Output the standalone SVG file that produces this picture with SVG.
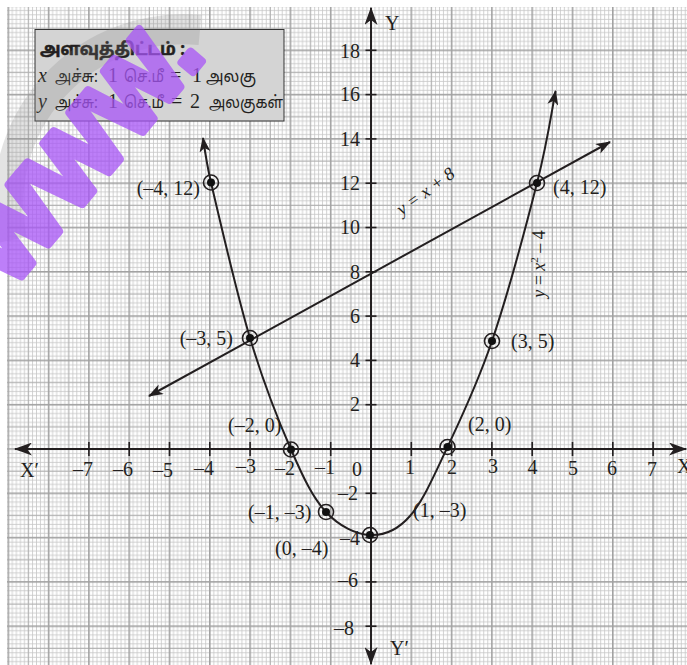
<svg xmlns="http://www.w3.org/2000/svg" width="687" height="665" viewBox="0 0 687 665">
<style>
.num{font-family:"Liberation Serif","Times New Roman",serif;font-size:20px;fill:#231f20}
.it{font-style:italic}
.ta{font-family:"Noto Sans Tamil","Lohit Tamil","Noto Sans",sans-serif;font-size:17px;fill:#231f20}
.ax{stroke:#231f20;stroke-width:2;fill:none}
.cv{stroke:#231f20;stroke-width:2;fill:none}
.tick{stroke:#231f20;stroke-width:1.6}
.ring{fill:none;stroke:#231f20;stroke-width:1.6}
.dot{fill:#111}
</style>
<defs>
<pattern id="grid" patternUnits="userSpaceOnUse" x="7.5" y="5.2" width="40.3" height="44.3">
<g fill="#c6c6c6">
<rect x="4.43" y="0" width="0.8" height="44.3"/><rect x="8.46" y="0" width="0.8" height="44.3"/><rect x="12.49" y="0" width="0.8" height="44.3"/><rect x="16.52" y="0" width="0.8" height="44.3"/>
<rect x="24.58" y="0" width="0.8" height="44.3"/><rect x="28.61" y="0" width="0.8" height="44.3"/><rect x="32.64" y="0" width="0.8" height="44.3"/><rect x="36.67" y="0" width="0.8" height="44.3"/>
<rect y="4.83" x="0" height="0.8" width="40.3"/><rect y="9.26" x="0" height="0.8" width="40.3"/><rect y="13.69" x="0" height="0.8" width="40.3"/><rect y="18.12" x="0" height="0.8" width="40.3"/>
<rect y="26.98" x="0" height="0.8" width="40.3"/><rect y="31.41" x="0" height="0.8" width="40.3"/><rect y="35.84" x="0" height="0.8" width="40.3"/><rect y="40.27" x="0" height="0.8" width="40.3"/>
</g>
<g fill="#b0b0b0">
<rect x="20.35" y="0" width="1.2" height="44.3"/><rect y="22.35" x="0" height="1.2" width="40.3"/>
</g>
<g fill="#a2a2a2">
<rect x="0" y="0" width="1.6" height="44.3"/><rect x="0" y="0" width="40.3" height="1.6"/>
</g>
</pattern>
<marker id="axarr" viewBox="0 0 18 13" refX="17" refY="6.5" markerWidth="18" markerHeight="13" markerUnits="userSpaceOnUse" orient="auto-start-reverse">
<path d="M0,0 L18,6.5 L0,13 L5,6.5 Z" fill="#231f20"/>
</marker>
<marker id="arr" viewBox="0 0 15 11" refX="14" refY="5.5" markerWidth="15" markerHeight="11" markerUnits="userSpaceOnUse" orient="auto-start-reverse">
<path d="M0,0 L15,5.5 L0,11 L4,5.5 Z" fill="#231f20"/>
</marker>
</defs>

<rect width="687" height="665" fill="#ffffff"/>
<rect x="7" y="7" width="680" height="658" fill="url(#grid)"/>

<g id="legend">
<rect x="35" y="29.5" width="249" height="91.5" fill="#d4d4d4" stroke="#333" stroke-width="1"/>
<text class="ta" x="40" y="55" font-weight="bold" stroke="#231f20" stroke-width="0.5" textLength="145" lengthAdjust="spacingAndGlyphs">அளவுத்திட்டம் :</text>
<text class="num it" x="38" y="81.5">x</text>
<text class="ta" x="55" y="81.5" textLength="43" lengthAdjust="spacingAndGlyphs">அச்சு:</text>
<text class="num" x="108" y="81.5">1</text>
<text class="ta" x="124" y="81.5" textLength="40" lengthAdjust="spacingAndGlyphs">செ.மீ</text>
<text class="num" x="170" y="81.5">=</text>
<text class="num" x="192" y="81.5">1</text>
<text class="ta" x="206" y="81.5" textLength="50" lengthAdjust="spacingAndGlyphs">அலகு</text>
<text class="num it" x="38" y="108">y</text>
<text class="ta" x="55" y="108" textLength="43" lengthAdjust="spacingAndGlyphs">அச்சு:</text>
<text class="num" x="108" y="108">1</text>
<text class="ta" x="124" y="108" textLength="40" lengthAdjust="spacingAndGlyphs">செ.மீ</text>
<text class="num" x="171" y="108">=</text>
<text class="num" x="190" y="108">2</text>
<text class="ta" x="209" y="108" textLength="74" lengthAdjust="spacingAndGlyphs">அலகுகள்</text>
</g>

<g id="axes">
<line class="ax" x1="15" y1="449" x2="686" y2="449" marker-start="url(#axarr)" marker-end="url(#axarr)"/>
<line class="ax" x1="371" y1="8" x2="371" y2="664" marker-start="url(#axarr)" marker-end="url(#axarr)"/>
<g class="tick">
<line x1="88.9" y1="442" x2="88.9" y2="456"/><line x1="129.2" y1="442" x2="129.2" y2="456"/><line x1="169.5" y1="442" x2="169.5" y2="456"/><line x1="209.8" y1="442" x2="209.8" y2="456"/><line x1="250.1" y1="442" x2="250.1" y2="456"/><line x1="290.4" y1="442" x2="290.4" y2="456"/><line x1="330.7" y1="442" x2="330.7" y2="456"/>
<line x1="411.3" y1="442" x2="411.3" y2="456"/><line x1="451.6" y1="442" x2="451.6" y2="456"/><line x1="491.9" y1="442" x2="491.9" y2="456"/><line x1="532.2" y1="442" x2="532.2" y2="456"/><line x1="572.5" y1="442" x2="572.5" y2="456"/><line x1="612.8" y1="442" x2="612.8" y2="456"/><line x1="653.1" y1="442" x2="653.1" y2="456"/>
<line x1="365.5" y1="50.3" x2="376.5" y2="50.3"/><line x1="365.5" y1="94.6" x2="376.5" y2="94.6"/><line x1="365.5" y1="138.9" x2="376.5" y2="138.9"/><line x1="365.5" y1="183.2" x2="376.5" y2="183.2"/><line x1="365.5" y1="227.5" x2="376.5" y2="227.5"/><line x1="365.5" y1="271.8" x2="376.5" y2="271.8"/><line x1="365.5" y1="316.1" x2="376.5" y2="316.1"/><line x1="365.5" y1="360.4" x2="376.5" y2="360.4"/><line x1="365.5" y1="404.7" x2="376.5" y2="404.7"/>
<line x1="365.5" y1="493.3" x2="376.5" y2="493.3"/><line x1="365.5" y1="537.6" x2="376.5" y2="537.6"/><line x1="365.5" y1="581.9" x2="376.5" y2="581.9"/><line x1="365.5" y1="626.2" x2="376.5" y2="626.2"/>
</g>
<g class="num" text-anchor="end">
<text x="93" y="476">–7</text><text x="133" y="476">–6</text><text x="173" y="477">–5</text><text x="214" y="475">–4</text><text x="256" y="473">–3</text><text x="295" y="475">–2</text><text x="335" y="474">–1</text>
</g>
<g class="num" text-anchor="middle">
<text x="410" y="474">1</text><text x="452" y="474">2</text><text x="493" y="473">3</text><text x="532.5" y="474">4</text><text x="573" y="475">5</text><text x="612" y="475">6</text><text x="652" y="476">7</text>
</g>
<text class="num" x="352" y="476">0</text>
<g class="num" text-anchor="end">
<text x="360" y="58">18</text><text x="360" y="101">16</text><text x="360" y="146">14</text><text x="360" y="190">12</text><text x="360" y="234">10</text><text x="360" y="279">8</text><text x="360" y="323">6</text><text x="360" y="367">4</text><text x="360" y="411">2</text>
<text x="358" y="500">–2</text><text x="360" y="545">–4</text><text x="358" y="587">–6</text><text x="354" y="635">–8</text>
</g>
<text class="num" x="20" y="477">X′</text>
<text class="num" x="677" y="473">X</text>
<text class="num" x="385" y="30">Y</text>
<text class="num" x="390" y="655">Y′</text>
</g>

<g id="connectors">
<path id="parabola" class="cv" marker-start="url(#arr)" marker-end="url(#arr)" d="M203,138 C205,152 207.5,167.5 211,182.5 C218.8,215.8 236.7,293.5 250,338 C263.3,382.5 278.3,420.5 291,449.5 C303.7,478.5 312.8,497.8 326,512 C339.2,526.3 356,534.3 370,535 C384,535.7 397.1,530.7 410,516 C422.9,501.3 433.8,476.2 447.5,447 C461.2,417.8 477.1,385 492,341 C506.9,297 526.4,224.7 537,183 C547.6,141.3 552.5,106.3 555.6,91"/>
<line id="line" class="cv" x1="149" y1="396" x2="610" y2="142" marker-start="url(#arr)" marker-end="url(#arr)"/>
<text class="num it" transform="translate(426,192) rotate(-36)" x="0" y="5" text-anchor="middle" style="font-size:18px">y = x + 8</text>
<text class="num" transform="translate(545,264) rotate(-90)" x="0" y="0" text-anchor="middle" style="font-size:18px"><tspan class="it">y</tspan> = <tspan class="it">x</tspan><tspan dy="-7" style="font-size:11px">2</tspan><tspan dy="7"> – 4</tspan></text>
</g>

<g id="p1"><circle class="ring" cx="211" cy="182.5" r="7.5"/><circle class="dot" cx="211" cy="182.5" r="4"/><text class="num" x="200" y="195" text-anchor="end">(–4, 12)</text></g>
<g id="p2"><circle class="ring" cx="250" cy="338" r="7.5"/><circle class="dot" cx="250" cy="338" r="4"/><text class="num" x="233" y="345" text-anchor="end">(–3, 5)</text></g>
<g id="p3"><circle class="ring" cx="291" cy="449.5" r="7.5"/><circle class="dot" cx="291" cy="449.5" r="4"/><text class="num" x="228" y="432">(–2, 0)</text></g>
<g id="p4"><circle class="ring" cx="326" cy="512" r="7.5"/><circle class="dot" cx="326" cy="512" r="4"/><text class="num" x="248" y="519">(–1, –3)</text></g>
<g id="p5"><circle class="ring" cx="370" cy="535" r="7.5"/><circle class="dot" cx="370" cy="535" r="4"/><text class="num" x="275" y="555">(0, –4)</text></g>
<g id="p6"><text class="num" x="413" y="517">(1, –3)</text></g>
<g id="p7"><circle class="ring" cx="447.5" cy="447" r="7.5"/><circle class="dot" cx="447.5" cy="447" r="4"/><text class="num" x="468" y="431">(2, 0)</text></g>
<g id="p8"><circle class="ring" cx="492" cy="341" r="7.5"/><circle class="dot" cx="492" cy="341" r="4"/><text class="num" x="511" y="348">(3, 5)</text></g>
<g id="p9"><circle class="ring" cx="537" cy="183" r="7.5"/><circle class="dot" cx="537" cy="183" r="4"/><text class="num" x="553" y="194">(4, 12)</text></g>

<g id="watermark">
<path d="M12,240 A175,175 0 0 1 200,30" fill="none" stroke="#808080" stroke-width="30" opacity="0.22"/>
<text transform="translate(10,290) rotate(-50)" x="0" y="0" style="font-family:'Liberation Sans',Arial,sans-serif;font-weight:bold;font-size:100px" fill="#a855f7" stroke="#a855f7" stroke-width="8" stroke-linejoin="round" opacity="0.75">WWW.</text>
</g>
</svg>
